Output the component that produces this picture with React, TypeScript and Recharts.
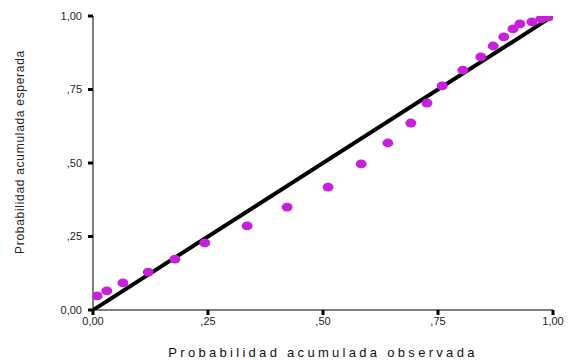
import { Scatter, ScatterChart, XAxis, YAxis, Label } from "recharts";

// observed cumulative probability (x) / expected cumulative probability (y)
const observed = [
  0.009, 0.03, 0.065, 0.12, 0.178, 0.243, 0.335, 0.422, 0.511, 0.583, 0.641,
  0.691, 0.726, 0.759, 0.804, 0.843, 0.87, 0.893, 0.913, 0.928, 0.954, 0.974,
  0.991,
];
const expected = [
  0.048, 0.065, 0.092, 0.129, 0.173, 0.228, 0.286, 0.35, 0.418, 0.497, 0.568,
  0.636, 0.704, 0.762, 0.816, 0.861, 0.898, 0.929, 0.956, 0.973, 0.98, 0.99,
  0.997,
];
const diagonal = [0, 1];
const ticks = [0, 0.25, 0.5, 0.75, 1];

const points = observed.map((x, i) => ({ x, y: expected[i] }));
const line = diagonal.map((v) => ({ x: v, y: v }));

const fmt = (v: number) => {
  if (v === 0) return "0,00";
  if (v === 1) return "1,00";
  return "," + Math.round(v * 100).toString();
};

const Dot = (props: any) => {
  const { cx, cy } = props;
  return <ellipse cx={cx} cy={cy} rx={5.5} ry={4.4} fill="#C720DA" />;
};

const YTitle = (props: any) => {
  const vb = props.viewBox;
  const cx = 20;
  const cy = vb.y + vb.height / 2 - 11;
  return (
    <text
      x={cx}
      y={cy}
      transform={`rotate(-90, ${cx}, ${cy})`}
      textAnchor="middle"
      dominantBaseline="central"
      fontFamily="Liberation Sans, Arial, sans-serif"
      fontSize={12}
      letterSpacing={0.7}
      fill="#222"
    >
      Probabilidad acumulada esperada
    </text>
  );
};

const XTitle = (props: any) => {
  const vb = props.viewBox;
  return (
    <text
      x={vb.x + vb.width / 2}
      y={352}
      textAnchor="middle"
      dominantBaseline="central"
      fontFamily="Liberation Sans, Arial, sans-serif"
      fontSize={13}
      letterSpacing={3.3}
      fill="#111"
    >
      Probabilidad acumulada observada
    </text>
  );
};

export default function App() {
  return (
    <div style={{ position: "absolute", left: 0, top: 0, background: "#fff" }}>
      <ScatterChart
        width={569}
        height={360}
        margin={{ top: 16, right: 16, left: 33, bottom: 20 }}
      >
        <XAxis
          type="number"
          dataKey="x"
          domain={[0, 1]}
          ticks={ticks}
          tickFormatter={fmt}
          height={30}
          tickSize={5}
          tickMargin={2}
          axisLine={{ stroke: "#555", strokeWidth: 1.5 }}
          tickLine={{ stroke: "#000", strokeWidth: 3 }}
          tick={{ fill: "#222", fontSize: 11, fontFamily: "Liberation Sans, Arial, sans-serif" }}
          allowDataOverflow
        >
          <Label content={<XTitle />} />
        </XAxis>
        <YAxis
          type="number"
          dataKey="y"
          domain={[0, 1]}
          ticks={ticks}
          tickFormatter={fmt}
          width={60}
          tickSize={5}
          tickMargin={6}
          axisLine={{ stroke: "#555", strokeWidth: 1.5 }}
          tickLine={{ stroke: "#000", strokeWidth: 3 }}
          tick={{ fill: "#222", fontSize: 11, fontFamily: "Liberation Sans, Arial, sans-serif" }}
          allowDataOverflow
        >
          <Label content={<YTitle />} />
        </YAxis>
        <Scatter
          data={line}
          line={{ stroke: "#000", strokeWidth: 4 }}
          shape={() => <g />}
          isAnimationActive={false}
        />
        <Scatter data={points} shape={<Dot />} isAnimationActive={false} />
      </ScatterChart>
    </div>
  );
}
